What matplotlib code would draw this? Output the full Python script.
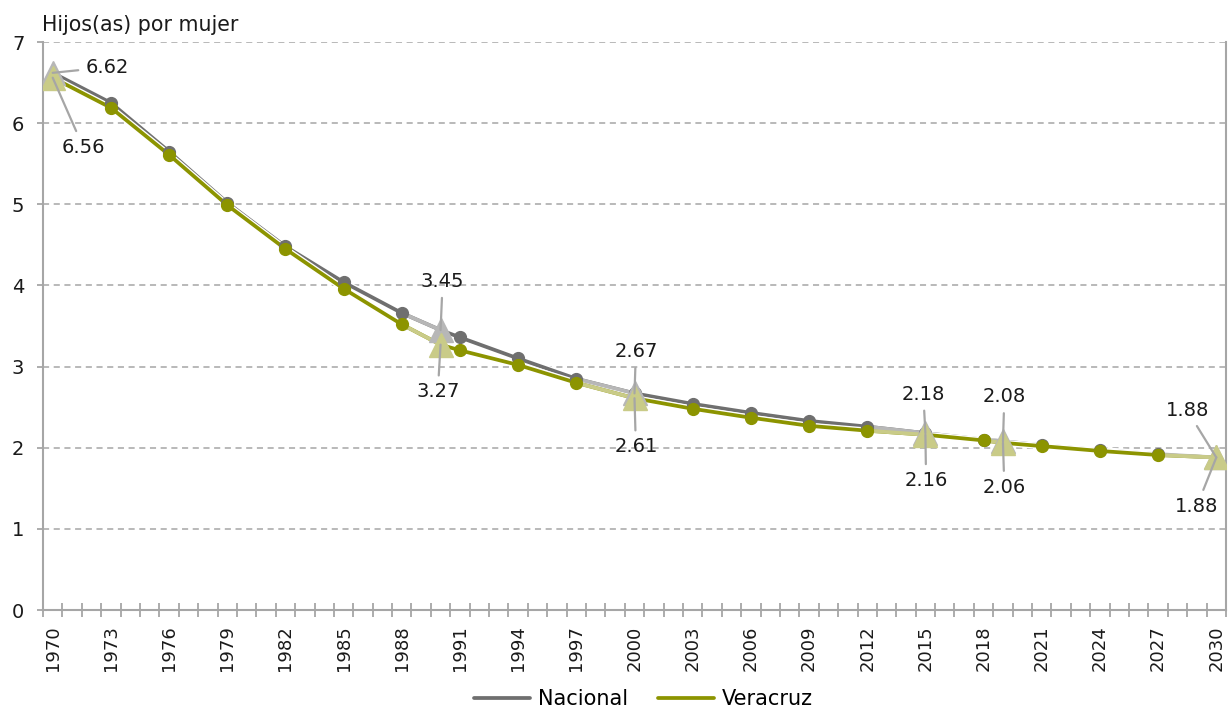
import numpy as np
import matplotlib
matplotlib.use("Agg")
import matplotlib.pyplot as plt
import matplotlib.patheffects as pe
from matplotlib.ticker import FixedLocator

plt.rcParams['font.family'] = ['DejaVu Sans']

# data
years = [1970, 1973, 1976, 1979, 1982, 1985, 1988, 1990, 1991, 1994, 1997, 2000,
         2003, 2006, 2009, 2012, 2015, 2018, 2019, 2021, 2024, 2027, 2030]
nacional = [6.62, 6.25, 5.65, 5.02, 4.48, 4.04, 3.66, 3.45, 3.36, 3.10, 2.85, 2.67,
            2.54, 2.43, 2.33, 2.26, 2.18, 2.10, 2.08, 2.03, 1.97, 1.92, 1.88]
veracruz = [6.56, 6.19, 5.61, 4.99, 4.45, 3.96, 3.52, 3.27, 3.20, 3.02, 2.80, 2.61,
            2.48, 2.37, 2.27, 2.21, 2.16, 2.09, 2.06, 2.02, 1.96, 1.91, 1.88]
circle_years = list(range(1973, 2028, 3))
label_years = [1970, 1990, 2000, 2015, 2019, 2030]
tick_labels = [str(y) for y in range(1970, 2031, 3)]

# label offsets in points (nacional, veracruz)
offs_nac = {1970: (39, 4), 1990: (1.5, 35), 2000: (1, 30), 2015: (-1.5, 28), 2019: (1, 32), 2030: (-21, 34)}
offs_ver = {1970: (22, -50), 1990: (-2, -34), 2000: (1, -35), 2015: (0.5, -33), 2019: (1, -32), 2030: (-14, -35)}

c_nac, c_nac_l = '#6f6f6f', '#b7b7b7'
c_ver, c_ver_l = '#8c9400', '#c9cb88'
c_grid = '#a6a6a6'

fig = plt.figure(figsize=(12.28, 7.09), dpi=100)
ax = fig.add_axes([43/1228, 1 - 610/709, (1226 - 43)/1228, (610 - 42)/709])

yrs = np.array(years)
series = [(nacional, c_nac, c_nac_l, 'Nacional', offs_nac), (veracruz, c_ver, c_ver_l, 'Veracruz', offs_ver)]
outline = [pe.Stroke(linewidth=4.6, foreground='white'), pe.Normal()]
for vals, col, col_l, name, offs in series:
    v = np.array(vals)
    ax.plot(yrs, v, color=col, lw=2.7, label=name, path_effects=outline, zorder=3, solid_capstyle='round')
    # lighter segments leading into the labelled points
    for ly in label_years[1:]:
        i = years.index(ly)
        ax.plot(yrs[i-1:i+1], v[i-1:i+1], color=col_l, lw=2.7, zorder=3.1, solid_capstyle='round')
    mask = np.isin(yrs, circle_years)
    ax.plot(yrs[mask], v[mask], 'o', color=col, ms=8.5, zorder=4)
    lmask = np.isin(yrs, label_years)
    ax.plot(yrs[lmask], v[lmask], '^', color=col_l, ms=17, zorder=5)

for vals, col, col_l, name, offs in series:
    for ly in label_years:
        val = vals[years.index(ly)]
        ax.annotate(f'{val:.2f}', xy=(ly, val), xytext=offs[ly], textcoords='offset points',
                    ha='center', va='center', fontsize=14, color='#1a1a1a', zorder=6,
                    arrowprops=dict(arrowstyle='-', color=c_grid, lw=1.6, shrinkA=3, shrinkB=0))

ax.set_xlim(1969.5, 2030.5)
ax.set_ylim(0, 7)
ax.set_yticks(range(0, 8))
ax.set_xticks(range(1970, 2031, 3))
ax.set_xticklabels(tick_labels, rotation=90)
ax.xaxis.set_minor_locator(FixedLocator(np.arange(1969.5, 2031, 1)))
ax.tick_params(axis='x', which='major', length=0, pad=11, labelsize=13, colors='#1a1a1a')
ax.tick_params(axis='x', which='minor', direction='inout', length=10, width=1.3, color=c_grid)
ax.tick_params(axis='y', length=4.5, width=1.3, color=c_grid, pad=9, labelsize=14, labelcolor='#1a1a1a')

ax.grid(axis='y', color=c_grid, lw=1.1, ls=(0, (4, 3)))
ax.set_axisbelow(True)
for s in ['left', 'bottom', 'right']:
    ax.spines[s].set_color(c_grid)
    ax.spines[s].set_linewidth(1.5)
ax.spines['top'].set_visible(False)

fig.text(42/1228, 1 - 25/709, 'Hijos(as) por mujer', fontsize=14.8, va='center', ha='left', color='#1a1a1a')

fig.legend(loc='center', bbox_to_anchor=(0.524, 0.014), ncol=2, frameon=False, fontsize=15,
           handlelength=2.7, columnspacing=1.4, handletextpad=0.4)

fig.savefig('out.png', dpi=100)
